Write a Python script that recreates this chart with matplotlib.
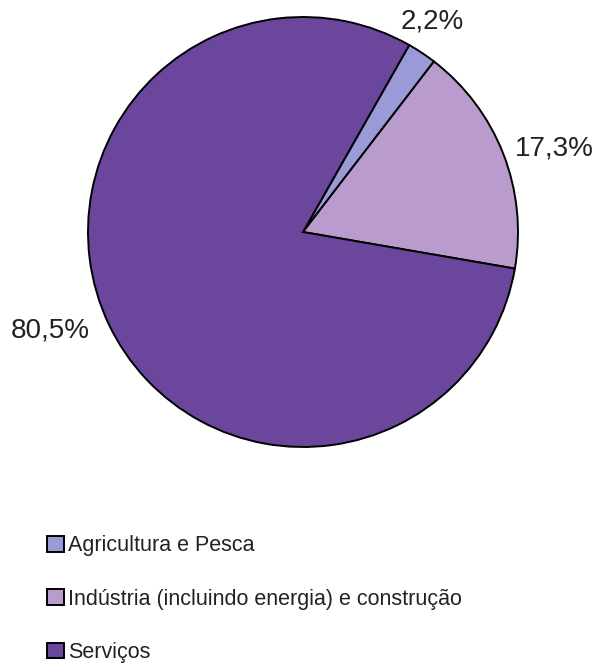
import numpy as np
import matplotlib
matplotlib.use("Agg")
import matplotlib.pyplot as plt

sectors = ["Agricultura e Pesca", "Indústria (incluindo energia) e construção", "Serviços"]
shares = [2.2, 17.3, 80.5]
share_labels = ["2,2%", "17,3%", "80,5%"]
colors = ["#9a9ad8", "#b99bcd", "#6a469c"]

fig = plt.figure(figsize=(6.03, 6.70), dpi=100)
ax = fig.add_axes([88/603, 223/670, 430/603, 430/670])
wedges, _ = ax.pie(shares, colors=colors, startangle=60.4, counterclock=False,
                   radius=1.0, wedgeprops=dict(edgecolor="black", linewidth=1.4))
ax.set_xlim(-1, 1)
ax.set_ylim(-1, 1)
ax.set_aspect("equal")

# percentage labels outside the slices
dist = [1.15, 1.23, 1.26]
shift = [2, -3, -4]
for w, lab, d, s in zip(wedges, share_labels, dist, shift):
    ang = np.deg2rad((w.theta1 + w.theta2) / 2 + s)
    ax.text(d * np.cos(ang), d * np.sin(ang), lab, ha="center", va="center",
            fontsize=20, family="Liberation Sans", color="#222222", clip_on=False)

leg = fig.legend(wedges, sectors, loc="upper left", bbox_to_anchor=(28/603, 1 - 516/670),
                 frameon=False, handlelength=0.75, handleheight=0.75, handletextpad=0.2,
                 labelspacing=1.5, prop=dict(family="Liberation Sans", size=15.5))
for t in leg.get_texts():
    t.set_color("#222222")

fig.savefig("out.png", dpi=100)
